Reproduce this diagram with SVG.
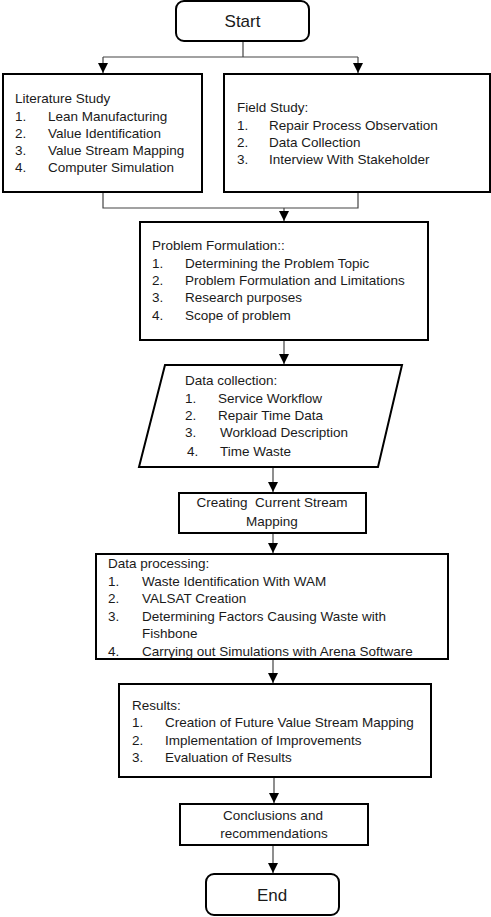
<svg xmlns="http://www.w3.org/2000/svg" width="491" height="917" viewBox="0 0 491 917">
<defs>
<marker id="ah" viewBox="0 0 10 10" refX="10" refY="5" markerWidth="10" markerHeight="10" markerUnits="userSpaceOnUse" orient="auto">
<path d="M0,0 L10,5 L0,10 z" fill="#000"/>
</marker>
<style>
.box{fill:#fff;stroke:#000;stroke-width:2}
.t{font-family:"Liberation Sans",Arial,sans-serif;font-size:13.5px;fill:#1a1a1a}
.c{text-anchor:middle}
.big{font-size:17px}
.ln{fill:none;stroke:#444;stroke-width:1.2}
</style>
</defs>
<rect width="491" height="917" fill="#fff"/>
<g id="connectors">
<path class="ln" d="M243,41 V57"/>
<path class="ln" d="M103,57 H358"/>
<path class="ln" d="M103,57 V73" marker-end="url(#ah)"/>
<path class="ln" d="M358,57 V73" marker-end="url(#ah)"/>
<path class="ln" d="M103,192 V208 H358 V192"/>
<path class="ln" d="M284,208 V221" marker-end="url(#ah)"/>
<path class="ln" d="M284,340 V364" marker-end="url(#ah)"/>
<path class="ln" d="M273,467 V492" marker-end="url(#ah)"/>
<path class="ln" d="M273,533 V553" marker-end="url(#ah)"/>
<path class="ln" d="M273,659 V683" marker-end="url(#ah)"/>
<path class="ln" d="M274,777 V803" marker-end="url(#ah)"/>
<path class="ln" d="M273,845 V873" marker-end="url(#ah)"/>
</g>
<g id="start">
<rect class="box" x="176" y="1" width="133" height="40" rx="8"/>
<text class="t c big" x="242.5" y="27">Start</text>
</g>
<g id="literature">
<rect class="box" x="3" y="74" width="199" height="118"/>
<text class="t" x="15" y="103">Literature Study</text>
<text class="t" x="15" y="121">1.</text><text class="t" x="48" y="121">Lean Manufacturing</text>
<text class="t" x="15" y="138">2.</text><text class="t" x="48" y="138">Value Identification</text>
<text class="t" x="15" y="155">3.</text><text class="t" x="48" y="155">Value Stream Mapping</text>
<text class="t" x="15" y="172">4.</text><text class="t" x="48" y="172">Computer Simulation</text>
</g>
<g id="field">
<rect class="box" x="224" y="74" width="266" height="118"/>
<text class="t" x="237" y="112">Field Study:</text>
<text class="t" x="237" y="130">1.</text><text class="t" x="269" y="130">Repair Process Observation</text>
<text class="t" x="237" y="147">2.</text><text class="t" x="269" y="147">Data Collection</text>
<text class="t" x="237" y="164">3.</text><text class="t" x="269" y="164">Interview With Stakeholder</text>
</g>
<g id="problem">
<rect class="box" x="140" y="222" width="288" height="118"/>
<text class="t" x="152" y="250">Problem Formulation::</text>
<text class="t" x="152" y="268">1.</text><text class="t" x="185" y="268">Determining the Problem Topic</text>
<text class="t" x="152" y="285">2.</text><text class="t" x="185" y="285">Problem Formulation and Limitations</text>
<text class="t" x="152" y="302">3.</text><text class="t" x="185" y="302">Research purposes</text>
<text class="t" x="152" y="320">4.</text><text class="t" x="185" y="320">Scope of problem</text>
</g>
<g id="datacollection">
<polygon class="box" points="165,365 402,365 378,467 139,467"/>
<text class="t" x="185" y="385">Data collection:</text>
<text class="t" x="185" y="403">1.</text><text class="t" x="218" y="403">Service Workflow</text>
<text class="t" x="185" y="420">2.</text><text class="t" x="218" y="420">Repair Time Data</text>
<text class="t" x="185" y="437">3.</text><text class="t" x="220" y="437">Workload Description</text>
<text class="t" x="187" y="456">4.</text><text class="t" x="220" y="456">Time Waste</text>
</g>
<g id="current">
<rect class="box" x="179" y="493" width="187" height="40"/>
<text class="t c" x="272" y="507" xml:space="preserve">Creating  Current Stream</text>
<text class="t c" x="272" y="526">Mapping</text>
</g>
<g id="processing">
<rect class="box" x="96" y="554" width="352" height="105"/>
<text class="t" x="108" y="568">Data processing:</text>
<text class="t" x="108" y="586">1.</text><text class="t" x="142" y="586">Waste Identification With WAM</text>
<text class="t" x="108" y="603">2.</text><text class="t" x="142" y="603">VALSAT Creation</text>
<text class="t" x="108" y="621">3.</text><text class="t" x="142" y="621">Determining Factors Causing Waste with</text>
<text class="t" x="142" y="638">Fishbone</text>
<text class="t" x="108" y="656">4.</text><text class="t" x="142" y="656">Carrying out Simulations with Arena Software</text>
</g>
<g id="results">
<rect class="box" x="119" y="684" width="312" height="93"/>
<text class="t" x="132" y="710">Results:</text>
<text class="t" x="132" y="727">1.</text><text class="t" x="165" y="727">Creation of Future Value Stream Mapping</text>
<text class="t" x="132" y="745">2.</text><text class="t" x="165" y="745">Implementation of Improvements</text>
<text class="t" x="132" y="762">3.</text><text class="t" x="165" y="762">Evaluation of Results</text>
</g>
<g id="conclusions">
<rect class="box" x="180" y="804" width="188" height="41"/>
<text class="t c" x="273" y="820">Conclusions and</text>
<text class="t c" x="274" y="838">recommendations</text>
</g>
<g id="end">
<rect class="box" x="206" y="874" width="133" height="41" rx="8"/>
<text class="t c big" x="272" y="901">End</text>
</g>
</svg>
